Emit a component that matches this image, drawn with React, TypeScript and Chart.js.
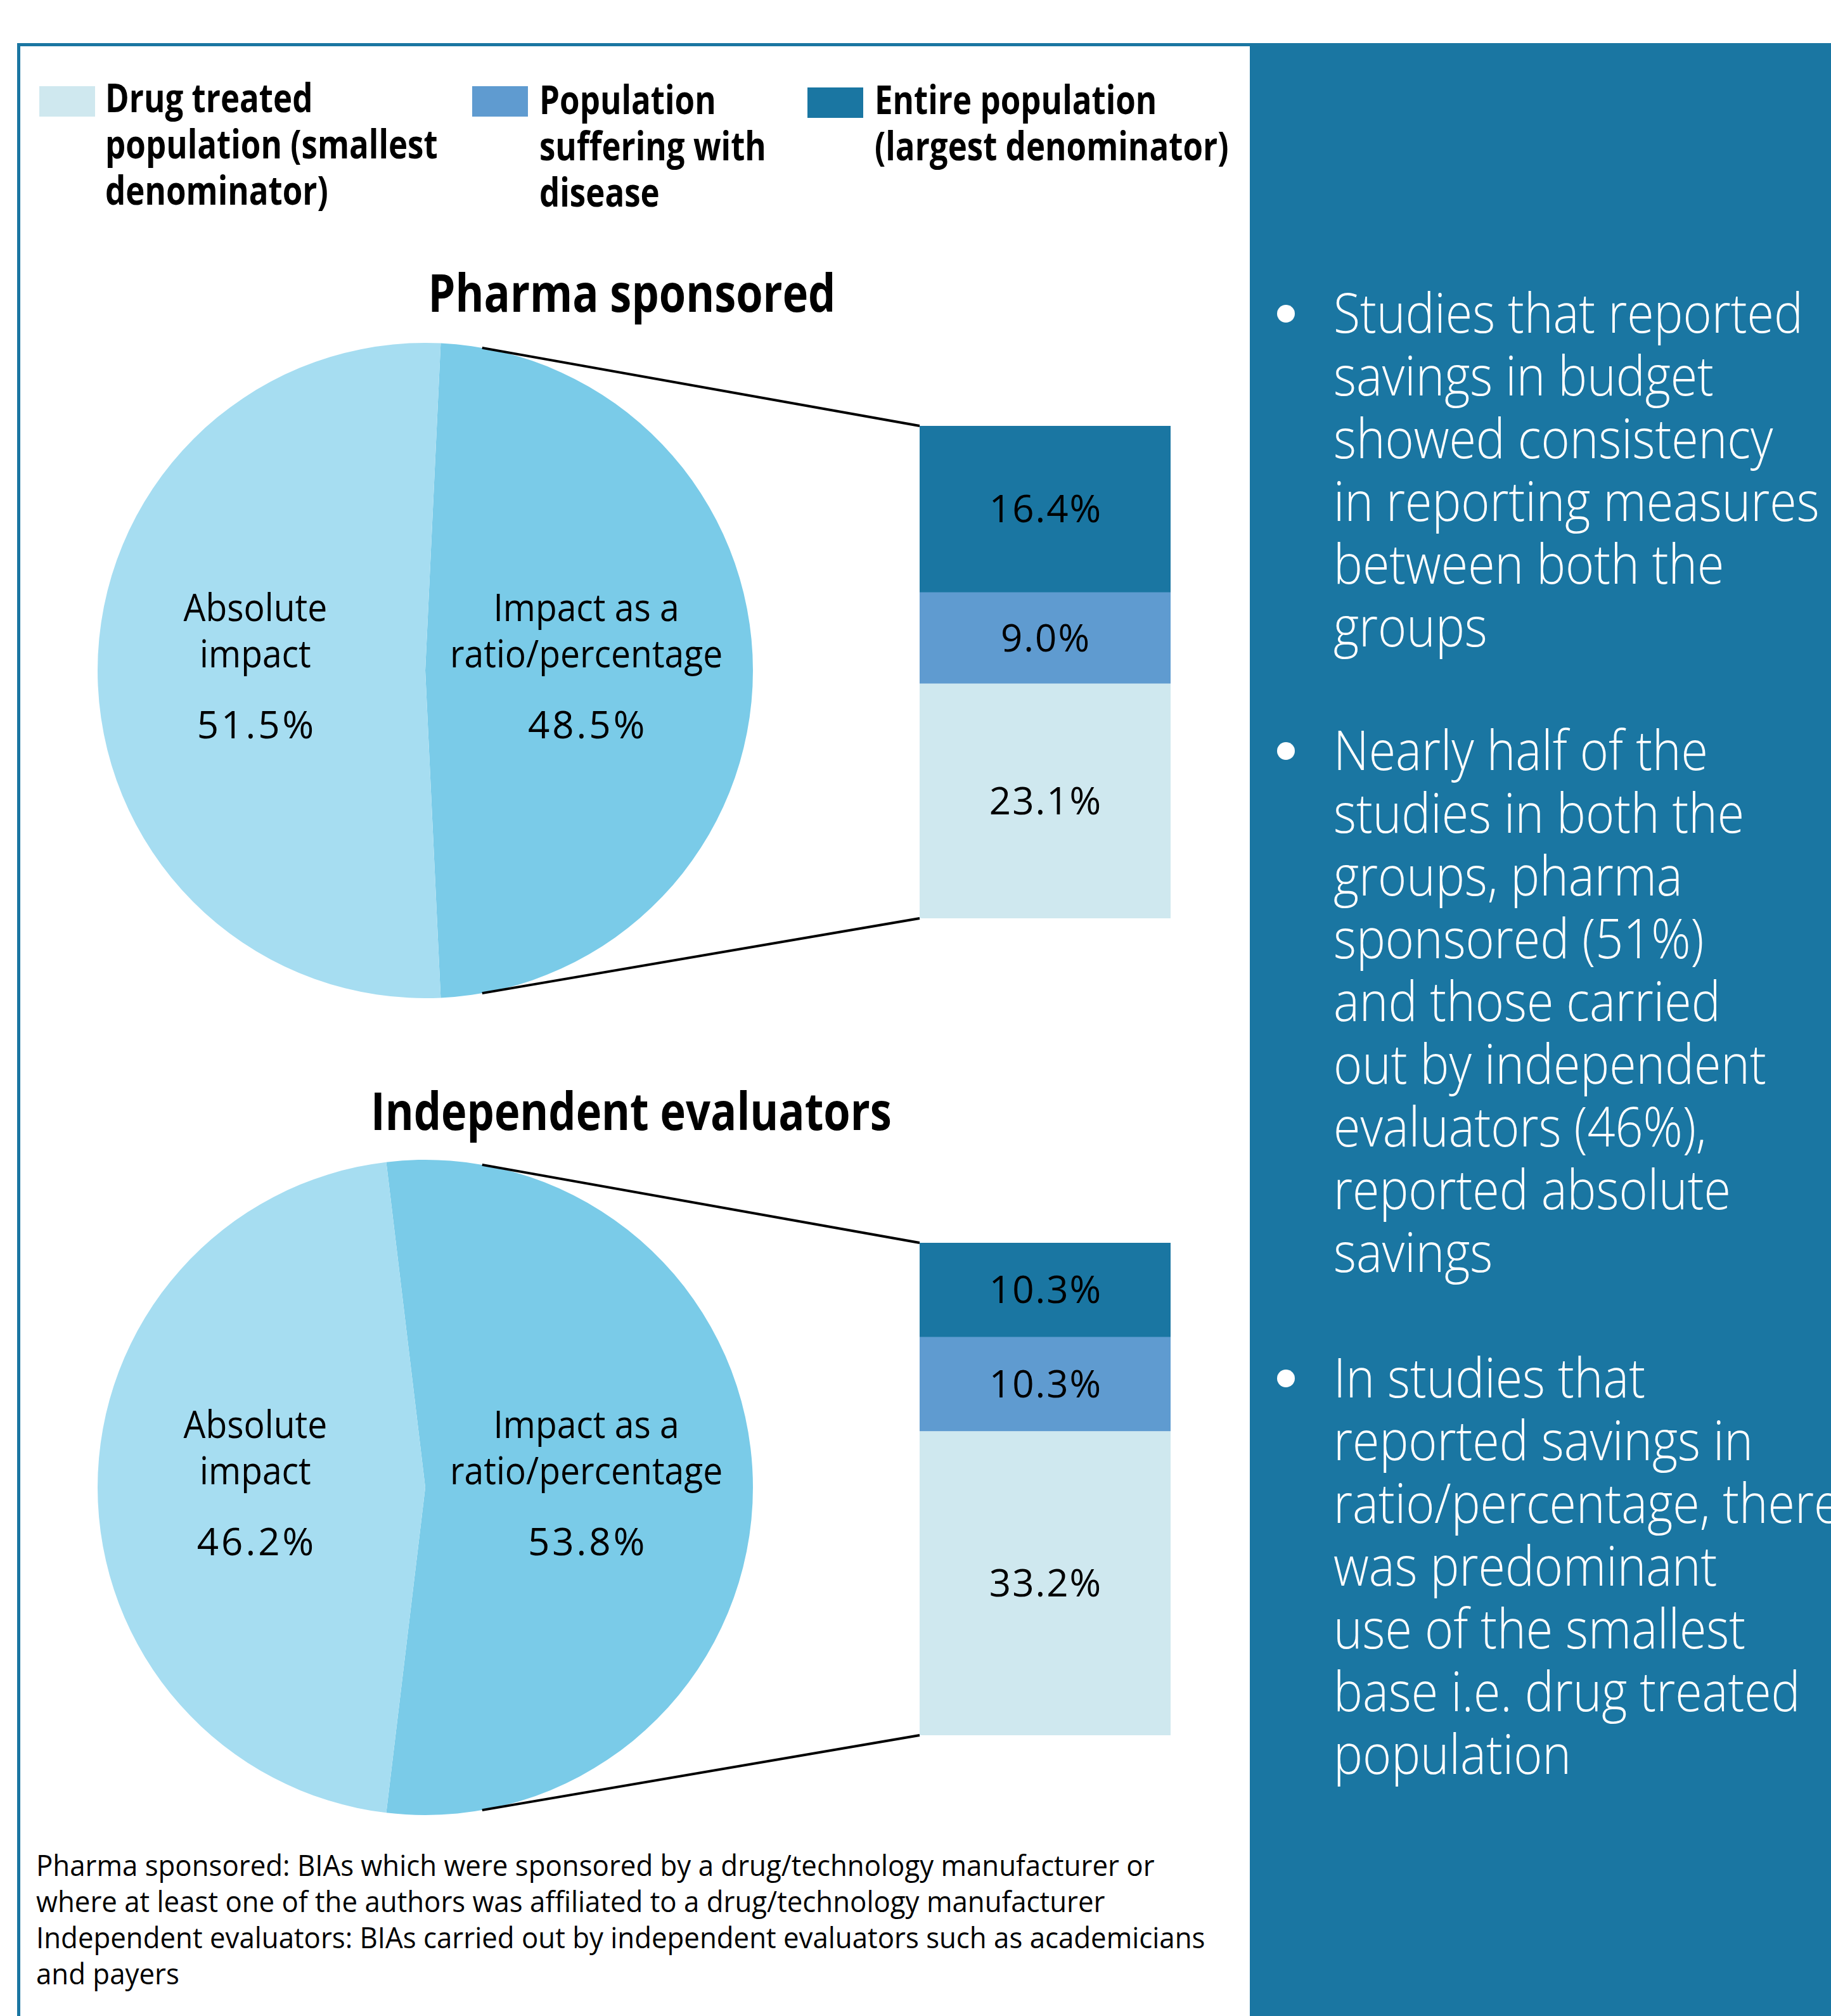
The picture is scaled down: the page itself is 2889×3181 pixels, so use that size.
import React, { useEffect, useRef } from "react";
import { Chart, registerables } from "chart.js";

Chart.register(...registerables);

// ---------------- data ----------------
const SERIES_LABELS = [
  "Drug treated population (smallest denominator)",
  "Population suffering with disease",
  "Entire population (largest denominator)",
];
const LEGEND_LINES = [
  ["Drug treated", "population (smallest", "denominator)"],
  ["Population", "suffering with", "disease"],
  ["Entire population", "(largest denominator)"],
];
const PIE_CATEGORIES = ["Impact as a ratio/percentage", "Absolute impact"];
const PIE_LABEL_LINES = [
  ["Impact as a", "ratio/percentage"],
  ["Absolute", "impact"],
];
const GROUP_TITLES = ["Pharma sponsored", "Independent evaluators"];
const PHARMA_PIE = [48.5, 51.5];
const INDEP_PIE = [53.8, 46.2];
// bar stacks, bottom -> top: drug treated, suffering, entire population
const PHARMA_BAR = [23.1, 9.0, 16.4];
const INDEP_BAR = [33.2, 10.3, 10.3];

const BULLETS = [
  ["Studies that reported", "savings in budget", "showed consistency", "in reporting measures", "between both the", "groups"],
  ["Nearly half of the", "studies in both the", "groups, pharma", "sponsored (51%)", "and those carried", "out by independent", "evaluators (46%),", "reported absolute", "savings"],
  ["In studies that", "reported savings in", "ratio/percentage, there", "was predominant", "use of the smallest", "base i.e. drug treated", "population"],
];
const FOOTNOTE = [
  "Pharma sponsored: BIAs which were sponsored by a drug/technology manufacturer or",
  "where at least one of the authors was affiliated to a drug/technology manufacturer",
  "Independent evaluators: BIAs carried out by independent evaluators such as academicians",
  "and payers",
];

// ---------------- styles ----------------
const PANEL = "#1a76a2";
const PIE_COLORS = ["#7acbe8", "#a6ddf1"];
const BAR_COLORS = ["#cfe8ef", "#5f9bd0", "#1a76a2"];
const FONT = "'Open Sans', 'Noto Sans', sans-serif";
const ASC = 1.069;
const DESC = 0.293;
const GROUP_W = 1972;
const GROUP_H = 1100;
const CONNECT_ANGLE = 10;

type TBProps = {
  left: number;
  baseline: number;
  lines: string[];
  size: number;
  lh: number;
  weight?: number;
  color?: string;
  sx?: number;
  align?: "left" | "center";
  width?: number;
};

function TextBlock({ left, baseline, lines, size, lh, weight = 400, color = "#000", sx = 1, align = "left", width }: TBProps) {
  const top = baseline - ((lh - (ASC + DESC) * size) / 2 + ASC * size);
  return (
    <div
      style={{
        position: "absolute",
        left,
        top,
        width,
        fontFamily: FONT,
        fontSize: size,
        lineHeight: lh + "px",
        fontWeight: weight,
        color,
        whiteSpace: "pre",
        textAlign: align,
        transform: `scaleX(${sx})`,
        transformOrigin: align === "center" ? "center top" : "left top",
      }}
    >
      {lines.join("\n")}
    </div>
  );
}

const pieLabelPlugin = {
  id: "pieLabels",
  afterDatasetsDraw(chart: any) {
    const meta = chart.getDatasetMeta(0);
    const ctx = chart.ctx;
    const values = chart.data.datasets[0].data as number[];
    meta.data.forEach((arc: any, i: number) => {
      const p = arc.getProps(["x", "y", "startAngle", "endAngle", "outerRadius"], true);
      const mid = (p.startAngle + p.endAngle) / 2;
      const lx = p.x + Math.cos(mid) * p.outerRadius * 0.505 - 7;
      const ly = p.y + Math.sin(mid) * p.outerRadius * 0.505;
      const lines = [PIE_LABEL_LINES[i][0], PIE_LABEL_LINES[i][1], values[i].toFixed(1) + "%"];
      const offs = [-78, -5, 107];
      ctx.save();
      ctx.fillStyle = "#000";
      ctx.font = `400 60px ${FONT}`;
      ctx.textAlign = "center";
      ctx.textBaseline = "alphabetic";
      lines.forEach((t, k) => {
        ctx.save();
        ctx.translate(lx, ly + offs[k]);
        if (k < 2) {
          ctx.scale(0.92, 1);
          (ctx as any).letterSpacing = "0px";
        } else {
          (ctx as any).letterSpacing = "4px";
        }
        ctx.fillText(t, k < 2 ? 0 : 2, 0);
        ctx.restore();
      });
      ctx.restore();
    });
  },
};

const barLabelPlugin = {
  id: "barLabels",
  afterDatasetsDraw(chart: any) {
    const ctx = chart.ctx;
    chart.data.datasets.forEach((ds: any, i: number) => {
      const el = chart.getDatasetMeta(i).data[0];
      if (!el) return;
      const p = el.getProps(["x", "y", "base"], true);
      const cy = (p.y + p.base) / 2;
      ctx.save();
      ctx.fillStyle = "#000";
      ctx.font = `400 60px ${FONT}`;
      (ctx as any).letterSpacing = "2px";
      ctx.textAlign = "center";
      ctx.textBaseline = "alphabetic";
      ctx.fillText((ds.data[0] as number).toFixed(1) + "%", p.x + 1, cy + 21);
      ctx.restore();
    });
  },
};

function Group({ top, pieData, barData }: { top: number; pieData: number[]; barData: number[] }) {
  const pieRef = useRef<HTMLCanvasElement | null>(null);
  const barRef = useRef<HTMLCanvasElement | null>(null);

  useEffect(() => {
    if (!pieRef.current || !barRef.current) return;
    const rotation = 90 - (pieData[0] * 3.6) / 2;
    const pie = new Chart(pieRef.current, {
      type: "pie",
      data: {
        labels: PIE_CATEGORIES,
        datasets: [{ data: pieData, backgroundColor: PIE_COLORS, borderWidth: 0 }],
      },
      options: {
        responsive: false,
        animation: false,
        devicePixelRatio: 1,
        rotation,
        layout: { padding: { left: 154, right: GROUP_W - 1188, top: 21, bottom: GROUP_H - 1055 } },
        plugins: { legend: { display: false }, tooltip: { enabled: false } },
        events: [],
      },
      plugins: [pieLabelPlugin],
    } as any);

    const total = barData.reduce((a, b) => a + b, 0);
    const connectorPlugin = {
      id: "connector",
      afterDatasetsDraw(chart: any) {
        const arc: any = pie.getDatasetMeta(0).data[0];
        if (!arc) return;
        const ap = arc.getProps(["x", "y", "outerRadius"], true);
        const a = (CONNECT_ANGLE * Math.PI) / 180;
        const n = chart.data.datasets.length;
        const bottomEl = chart.getDatasetMeta(0).data[0].getProps(["x", "y", "base", "width"], true);
        const topEl = chart.getDatasetMeta(n - 1).data[0].getProps(["x", "y", "base", "width"], true);
        const left = bottomEl.x - bottomEl.width / 2;
        const ctx = chart.ctx;
        ctx.save();
        ctx.strokeStyle = "#000";
        ctx.lineWidth = 4;
        ctx.beginPath();
        ctx.moveTo(ap.x + ap.outerRadius * Math.sin(a), ap.y - ap.outerRadius * Math.cos(a));
        ctx.lineTo(left, topEl.y);
        ctx.moveTo(ap.x + ap.outerRadius * Math.sin(a), ap.y + ap.outerRadius * Math.cos(a));
        ctx.lineTo(left, bottomEl.base);
        ctx.stroke();
        ctx.restore();
      },
    };

    const bar = new Chart(barRef.current, {
      type: "bar",
      data: {
        labels: ["share"],
        datasets: barData.map((v, i) => ({
          label: SERIES_LABELS[i],
          data: [v],
          backgroundColor: BAR_COLORS[i],
          borderWidth: 0,
          barPercentage: 1,
          categoryPercentage: 1,
        })),
      },
      options: {
        responsive: false,
        animation: false,
        devicePixelRatio: 1,
        layout: { padding: { left: 1451, right: GROUP_W - 1847, top: 152, bottom: GROUP_H - 929 } },
        scales: {
          x: { stacked: true, display: false },
          y: { stacked: true, display: false, min: 0, max: total },
        },
        plugins: { legend: { display: false }, tooltip: { enabled: false } },
        events: [],
      },
      plugins: [barLabelPlugin, connectorPlugin],
    } as any);

    return () => {
      bar.destroy();
      pie.destroy();
    };
  }, []);

  const cs: React.CSSProperties = { position: "absolute", left: 0, top, width: GROUP_W, height: GROUP_H };
  return (
    <>
      <canvas ref={pieRef} width={GROUP_W} height={GROUP_H} style={cs} />
      <canvas ref={barRef} width={GROUP_W} height={GROUP_H} style={cs} />
    </>
  );
}

export default function App() {
  const legendX = [62, 745, 1274];
  const legendSwY = [136, 136, 138];
  const legendTextX = [166, 851, 1380];
  const legendBase = [177, 180, 180];
  const bulletBase = [525, 1215, 2205];

  return (
    <div
      style={{
        position: "absolute",
        left: 0,
        top: 0,
        width: 2889,
        height: 3181,
        background: "#fff",
        overflow: "hidden",
        fontFamily: FONT,
      }}
    >
      {/* frame */}
      <div style={{ position: "absolute", left: 27, top: 68, width: GROUP_W - 27, height: 5, background: PANEL }} />
      <div style={{ position: "absolute", left: 27, top: 68, width: 5, height: 3181 - 68, background: PANEL }} />
      <div style={{ position: "absolute", left: 1972, top: 68, width: 2889 - 1972, height: 3181 - 68, background: PANEL }} />

      {/* legend */}
      {LEGEND_LINES.map((lines, i) => (
        <React.Fragment key={i}>
          <div
            style={{ position: "absolute", left: legendX[i], top: legendSwY[i], width: 88, height: 48, background: BAR_COLORS[i] }}
          />
          <TextBlock left={legendTextX[i]} baseline={legendBase[i]} lines={lines} size={63} lh={73} weight={700} sx={0.81} />
        </React.Fragment>
      ))}

      {/* titles */}
      <TextBlock left={997 - 700} width={1400} baseline={492} lines={[GROUP_TITLES[0]]} size={82} lh={100} weight={700} sx={0.835} align="center" />
      <TextBlock left={996 - 700} width={1400} baseline={1783} lines={[GROUP_TITLES[1]]} size={82} lh={100} weight={700} sx={0.835} align="center" />

      {/* charts */}
      <Group top={520} pieData={PHARMA_PIE} barData={PHARMA_BAR} />
      <Group top={1809} pieData={INDEP_PIE} barData={INDEP_BAR} />

      {/* footnote */}
      <TextBlock left={57} baseline={2960} lines={FOOTNOTE} size={46} lh={57} sx={0.952} />

      {/* bullets */}
      {BULLETS.map((lines, i) => (
        <React.Fragment key={i}>
          <div
            style={{
              position: "absolute",
              left: 2029 - 14,
              top: bulletBase[i] - 30 - 14,
              width: 28,
              height: 28,
              borderRadius: "50%",
              background: "#fff",
            }}
          />
          <TextBlock left={2104} baseline={bulletBase[i]} lines={lines} size={86} lh={99} weight={300} color="#fff" sx={0.897} />
        </React.Fragment>
      ))}
    </div>
  );
}
